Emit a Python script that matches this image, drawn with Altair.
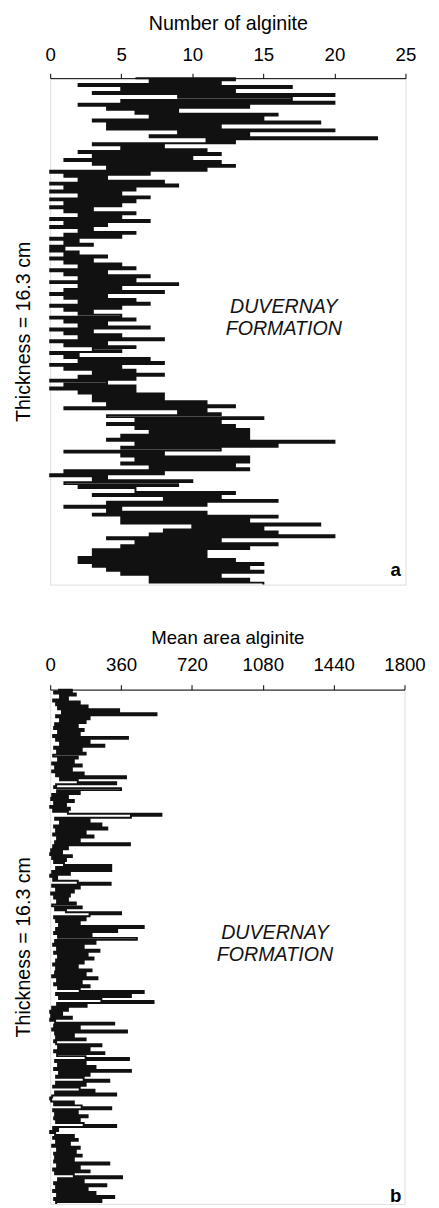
import altair as alt
import pandas as pd

FONT = "Liberation Sans"

# Panel a: Number of alginite, samples from top to bottom of the 16.3 cm section
alginite_count = [
    6, 13, 7, 12, 2, 17, 5, 13, 3, 20, 9, 17, 5, 20, 2, 14, 4, 9, 6, 16,
    7, 15, 3, 19, 4, 12, 4, 20, 9, 14, 7, 23,
    11, 13, 3, 8, 5, 11, 2, 12, 3, 10, 1, 12, 3, 13, 4, 11,
    0, 7, 1, 4, 2, 8, 0, 9, 1, 6, 0, 5, 2, 7, 0, 6, 1, 5, 0, 3,
    1, 6, 2, 5, 0, 7, 1, 4, 0, 3, 2, 6, 1, 5, 0, 2, 1, 3, 0, 1,
    0, 2, 1, 4, 0, 3, 1, 5, 2, 6, 0, 4, 1, 7, 2, 6, 0, 9, 2, 5,
    1, 8, 0, 4, 1, 6, 2, 7, 0, 5, 1, 3, 2, 5, 0, 6, 1, 4, 2, 7,
    0, 3, 1, 5, 2, 8, 0, 4, 1, 6, 3, 5, 0, 2, 1, 7, 2, 8, 0, 5,
    1, 6, 3, 8, 2, 6,
    0, 4, 1, 6, 0, 6, 2, 8,
    3, 8, 3, 11, 4, 13, 1, 11, 9, 12,
    4, 15, 6, 12, 4, 13, 6, 14, 7, 14, 5, 14,
    4, 20, 6, 16, 5, 12, 1, 8, 5, 14, 6, 14,
    5, 13, 7, 14, 1, 8, 0, 4, 3, 10, 1, 9, 2, 6, 6, 13,
    3, 12, 8, 16, 4, 11, 1, 5, 4, 11, 3, 16, 5, 14, 5, 19,
    10, 15, 8, 16, 7, 20, 4, 12, 6, 16, 5, 14, 3, 11, 3, 11,
    2, 13, 2, 15, 3, 14, 4, 15, 5, 12, 7, 14, 7, 15,
]

# Panel b: Mean area alginite, same section
alginite_area = [
    40, 110, 20, 130, 50, 90, 15, 150, 30, 190, 40, 350, 60, 540, 30, 200, 50, 180, 25, 140,
    20, 170, 40, 150, 15, 395, 30, 200, 50, 275, 20, 160, 35, 180, 15, 140, 40, 120, 10, 160,
    25, 110, 10, 170, 30, 385, 50, 140, 335, 30, 20, 360, 35, 150, 10, 90, 5, 120, 20, 80,
    0, 100, 15, 90, 565, 410, 25, 200, 50, 260, 20, 290, 30, 180, 15, 220, 35, 150, 25, 405,
    15, 90, 5, 60, 0, 110, 10, 80, 20, 70, 310, 30, 310, 10, 100, 0, 35, 15, 140, 307,
    10, 150, 30, 120, 5, 100, 20, 90, 35, 130, 10, 160, 25, 80, 360, 200, 20, 180, 30, 150,
    45, 475, 30, 340, 20, 210, 40, 440, 25, 230, 15, 170, 35, 250, 20, 190, 40, 220, 30, 170,
    15, 140, 30, 210, 25, 180, 10, 240, 35, 160, 20, 200, 40, 150, 475, 30, 410, 45, 260, 525,
    35, 185, 10, 90, 0, 60, 5, 110, 0, 25, 325, 20, 150, 10, 390, 25, 120, 30, 180, 20,
    30, 260, 40, 200, 20, 275, 35, 180, 400, 25, 180, 40, 230, 20, 410, 45, 200, 30, 170, 300,
    30, 180, 15, 150, 225, 25, 335, 10, 0, 5, 120, 20, 160, 310, 15, 140, 25, 190, 20, 150,
    30, 170, 335, 15, 40, 0, 25, 120, 15, 140, 30, 100, 10, 150, 35, 130, 20, 160, 25, 120,
    20, 300, 35, 150, 15, 200, 25, 120, 365, 40, 170, 20, 285, 30, 190, 15, 230, 35, 325, 20,
    260, 30,
]

ticks_a = [0, 5, 10, 15, 20, 25]
ticks_b = [0, 360, 720, 1080, 1440, 1800]
y_title = "Thickness = 16.3 cm"
formation_lines = ["DUVERNAY", "FORMATION"]

one_row = pd.DataFrame({"k": [0]})


def panel(values, ticks, x_title, letter, width, height, title_pad_y, title_pad_x,
          label_pad, title_size, text_x, text_y, letter_x, letter_y):
    df = pd.DataFrame({"idx": list(range(len(values))), "v": values})
    line = alt.Chart(df).mark_line(color="#111111", strokeWidth=2,
                                   interpolate="step-after").encode(
        x=alt.X("v:Q",
                scale=alt.Scale(domain=[ticks[0], ticks[-1]], nice=False, zero=True),
                axis=alt.Axis(orient="top", values=ticks, title=x_title, grid=False,
                              tickSize=5, labelPadding=label_pad, titlePadding=title_pad_x,
                              labelFontSize=19, titleFontSize=title_size,
                              titleFontWeight="normal",
                              domainColor="black", tickColor="black",
                              labelColor="black", titleColor="black",
                              labelFont=FONT, titleFont=FONT, format="d",
                              labelFlush=False)),
        y=alt.Y("idx:Q",
                scale=alt.Scale(domain=[0, len(values) - 1], reverse=True, nice=False, zero=False),
                axis=alt.Axis(title=y_title, labels=False, ticks=False, domain=False,
                              grid=False, titleFontSize=20, titleFont=FONT,
                              titleFontWeight="normal", titleColor="black",
                              titlePadding=title_pad_y)),
        order="idx:Q",
    )
    t1 = alt.Chart(one_row).mark_text(text=formation_lines[0], font=FONT, fontSize=20,
                                      fontStyle="italic", align="center", baseline="middle",
                                      color="#111111").encode(
        x=alt.value(text_x), y=alt.value(text_y))
    t2 = alt.Chart(one_row).mark_text(text=formation_lines[1], font=FONT, fontSize=20,
                                      fontStyle="italic", align="center", baseline="middle",
                                      color="#111111").encode(
        x=alt.value(text_x), y=alt.value(text_y + 23))
    t3 = alt.Chart(one_row).mark_text(text=letter, font=FONT, fontSize=19, fontWeight="bold",
                                      align="center", baseline="middle", color="black").encode(
        x=alt.value(letter_x), y=alt.value(letter_y))
    return alt.layer(line, t1, t2, t3).properties(width=width, height=height)


pa = panel(alginite_count, ticks_a, "Number of alginite", "a", 362, 516, 17, 13, 9, 20,
           238, 233, 352, 501)
pb = panel(alginite_area, ticks_b, "Mean area alginite", "b", 361, 524, 17, 9, 10, 19,
           229, 248, 352, 516)

chart = alt.vconcat(pa, pb, spacing=39).properties(
    padding={"left": 5, "right": 5, "top": -7, "bottom": 5}
).configure_view(
    stroke="black", strokeWidth=1
).configure(background="white")

chart.save("out.html", embed_options={"renderer": "svg", "actions": False})
